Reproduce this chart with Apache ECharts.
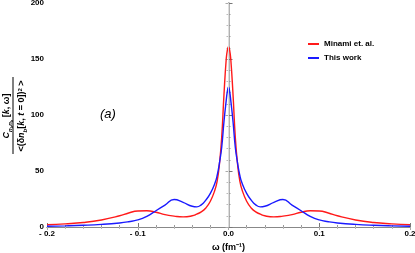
<!DOCTYPE html>
<html><head><meta charset="utf-8">
<script src="https://cdn.jsdelivr.net/npm/echarts@6/dist/echarts.min.js"></script>
<style>html,body{margin:0;padding:0;background:#fff}#c{width:415px;height:253px}</style>
</head><body><div id="c"></div>
<script>
const omega = [-0.2,-0.18,-0.16,-0.14,-0.12,-0.11,-0.1,-0.09,-0.08,-0.07,-0.06,-0.05,-0.04,-0.035,-0.03,-0.025,-0.02,-0.015,-0.0125,-0.01,-0.0075,-0.005,-0.0025,-0.00125,0,
  0.00125,0.0025,0.005,0.0075,0.01,0.0125,0.015,0.02,0.025,0.03,0.035,0.04,0.05,0.06,0.07,0.08,0.09,0.1,0.11,0.12,0.14,0.16,0.18,0.2];
const minami = [2,2.8,4,6.3,10,12.5,14.3,14.5,13.2,11,9.7,9,10,11.5,13.5,17,23,33,41,56,80,118,150,158,161,
  158,150,118,80,56,41,33,23,17,13.5,11.5,10,9,9.7,11,13.2,14.5,14.3,12.5,10,6.3,4,2.8,2];
const thisWork = [0.7,1,1.5,2.3,3.6,4.7,6.3,9.5,14.5,19.5,24.5,22,18.5,18,19.8,24,30,39,46,57,71,94,113,121,125,
  121,113,94,71,57,46,39,30,24,19.8,18,18.5,22,24.5,19.5,14.5,9.5,6.3,4.7,3.6,2.3,1.5,1,0.7];
const xTicks = [-0.2,-0.1,0,0.1,0.2];
const yTicks = [0,50,100,150,200];
const seriesNames = ['Minami et. al.','This work'];

const chart = echarts.init(document.getElementById('c'));
const pair = a => omega.map((x,i)=>[x,a[i]]);
const fontF = 'Liberation Sans, Arial, sans-serif';
const lbl = {fontFamily:fontF,fontWeight:'bold',fontSize:8,color:'#000'};
chart.setOption({
  animation:false,
  grid:{left:47,right:5,top:3,bottom:26,outerBoundsMode:'none',containLabel:false},
  legend:{orient:'vertical',left:303,top:35,itemWidth:11,itemHeight:2,itemGap:6,icon:'rect',
    textStyle:{fontFamily:fontF,fontWeight:'bold',fontSize:8,color:'#000'},data:seriesNames},
  xAxis:[{type:'value',min:-0.2,max:0.2,interval:0.1,
    axisLine:{lineStyle:{color:'#777',width:1}},
    axisTick:{inside:true,length:4,lineStyle:{color:'#777'}},
    minorTick:{show:true,splitNumber:5,length:2,lineStyle:{color:'#999'}},
    splitLine:{show:false},
    axisLabel:{...lbl,margin:3,formatter:v=>xTicks.includes(+v.toFixed(1))?(v<0?'- '+Math.abs(v).toFixed(1):v.toFixed(1)):''},
    name:'ω (fm\u207B\u00B9)',nameLocation:'middle',nameGap:15,
    nameTextStyle:{fontFamily:fontF,fontWeight:'bold',fontSize:9,color:'#000'}},
   {type:'value',position:'top',min:-0.2,max:0.2,interval:0.1,
    axisLine:{show:true,lineStyle:{color:'#888'}},
    axisTick:{inside:true,length:3,lineStyle:{color:'#aaa'}},
    minorTick:{show:true,splitNumber:5,length:2,lineStyle:{color:'#bbb'}},
    axisLabel:{show:false},splitLine:{show:false}}],
  yAxis:[{type:'value',min:0,max:200,interval:50,
    axisLine:{show:true,lineStyle:{color:'#777'}},
    axisTick:{inside:true,length:4,lineStyle:{color:'#777'}},
    minorTick:{show:true,splitNumber:5,length:2,lineStyle:{color:'#999'}},
    splitLine:{show:false},
    axisLabel:{...lbl,margin:3,formatter:v=>yTicks.includes(v)?String(v):''}},
   {type:'value',position:'right',min:0,max:200,interval:50,
    axisLine:{show:true,lineStyle:{color:'#999',width:1.5}},
    axisTick:{inside:true,length:3,lineStyle:{color:'#aaa'}},
    minorTick:{show:true,splitNumber:5,length:2,lineStyle:{color:'#bbb'}},
    axisLabel:{show:false},splitLine:{show:false}}],
  series:[
   {name:seriesNames[0],type:'line',data:pair(minami),smooth:0.5,showSymbol:false,
    lineStyle:{color:'#ff1a1a',width:1.4},itemStyle:{color:'#ff1a1a'},z:3,
    markLine:{silent:true,symbol:'none',label:{show:false},lineStyle:{color:'#ddd',width:1,type:'solid'},data:[{xAxis:0}]}},
   {name:seriesNames[1],type:'line',data:pair(thisWork),smooth:0.5,showSymbol:false,
    lineStyle:{color:'#1a1aff',width:1.4},itemStyle:{color:'#1a1aff'},z:4}
  ],
  graphic:[
   {type:'text',left:100,top:108,style:{text:'(a)',fontFamily:fontF,fontStyle:'italic',fontSize:13,fill:'#000'}},
   {type:'group',x:13,y:116,rotation:Math.PI/2,children:[
     {type:'line',shape:{x1:-38,y1:0,x2:39,y2:0},style:{stroke:'#000',lineWidth:1}},
     {type:'text',x:0,y:-2,style:{align:'center',verticalAlign:'bottom',
       text:'{i|C}{s|n}{ss|b}{s|n}{ss|b}{n| [}{i|k}{n|, ω]}',
       rich:{i:{fontFamily:fontF,fontStyle:'italic',fontWeight:'bold',fontSize:9,fill:'#000',verticalAlign:'bottom'},
             n:{fontFamily:fontF,fontWeight:'bold',fontSize:9,fill:'#000',verticalAlign:'bottom'},
             s:{fontFamily:fontF,fontStyle:'italic',fontWeight:'bold',fontSize:6,fill:'#000',verticalAlign:'bottom',padding:[0,0,-2,0]},
             ss:{fontFamily:fontF,fontStyle:'italic',fontWeight:'bold',fontSize:4,fill:'#000',verticalAlign:'bottom',padding:[0,0,-3,0]}}}},
     {type:'text',x:0,y:4,style:{align:'center',verticalAlign:'top',
       text:'{n|<(δ}{i|n}{s|b}{n|[}{i|k}{n|, }{i|t}{n| = 0])}{sup|2}{n| >}',
       rich:{i:{fontFamily:fontF,fontStyle:'italic',fontWeight:'bold',fontSize:9,fill:'#000',verticalAlign:'bottom'},
             n:{fontFamily:fontF,fontWeight:'bold',fontSize:9,fill:'#000',verticalAlign:'bottom'},
             s:{fontFamily:fontF,fontStyle:'italic',fontWeight:'bold',fontSize:6,fill:'#000',verticalAlign:'bottom',padding:[0,0,-2,0]},
             sup:{fontFamily:fontF,fontWeight:'bold',fontSize:6,fill:'#000',verticalAlign:'top'}}}}
   ]}
  ]
});
</script></body></html>
